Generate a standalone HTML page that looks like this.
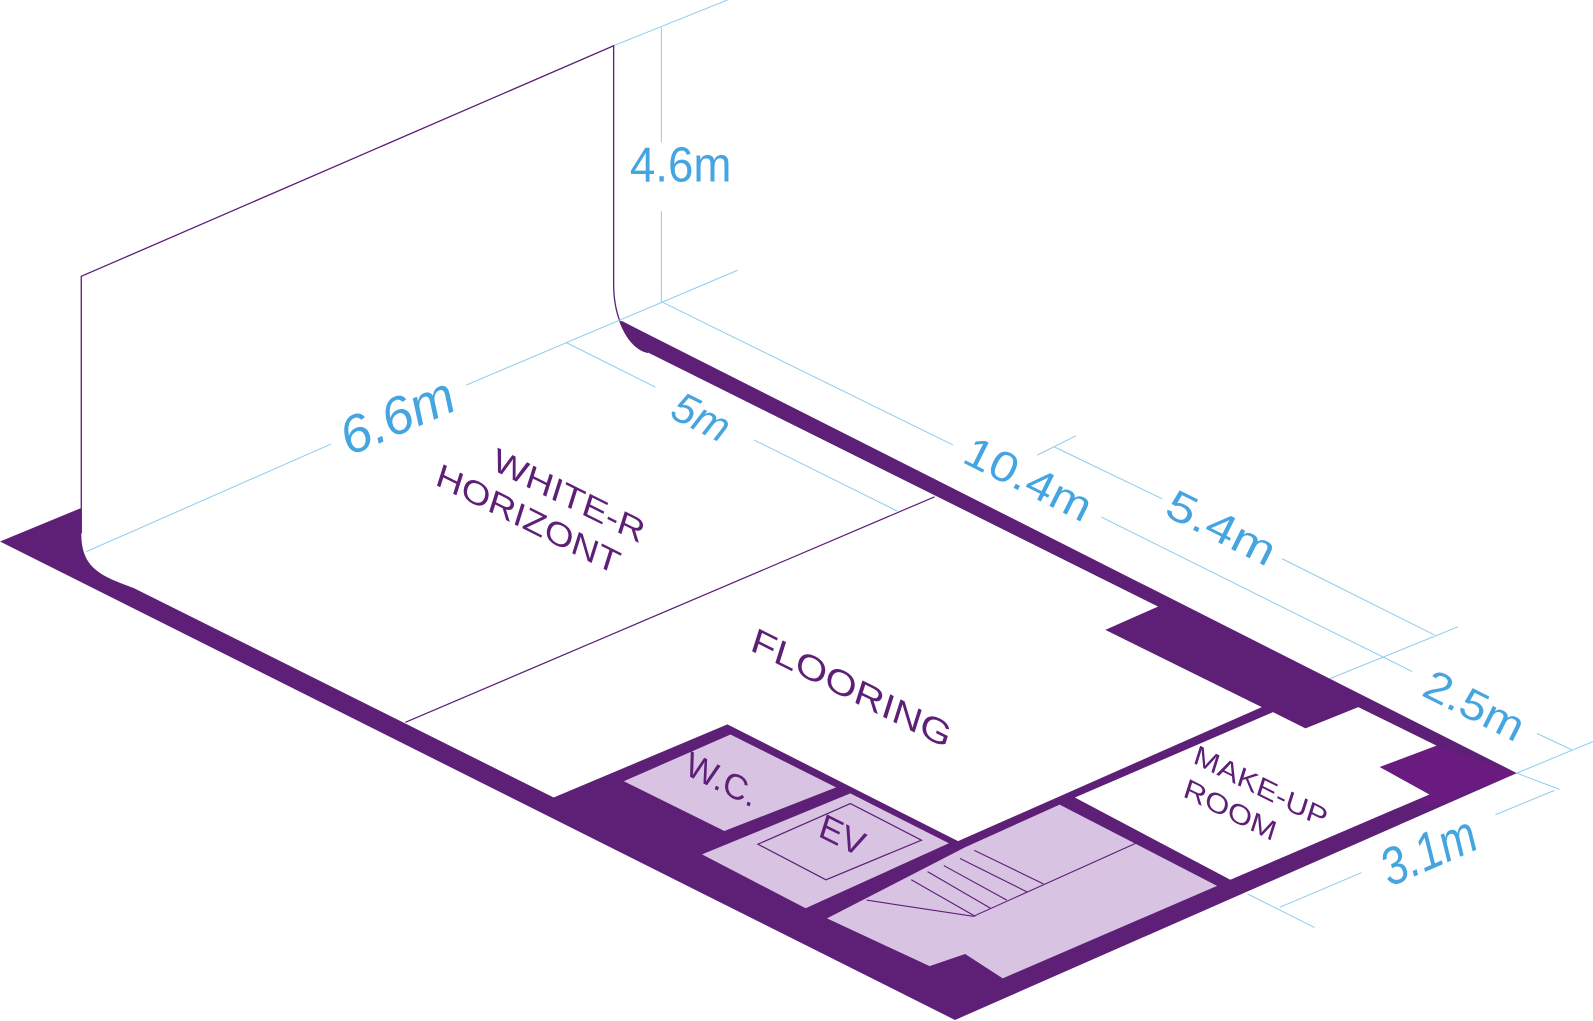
<!DOCTYPE html>
<html><head><meta charset="utf-8"><style>
html,body{margin:0;padding:0;background:#fff;}
svg{display:block;}
text{font-family:"Liberation Sans",sans-serif;}
</style></head><body>
<svg width="1593" height="1021" viewBox="0 0 1568 1005" preserveAspectRatio="none" xmlns="http://www.w3.org/2000/svg">
<g stroke="#8fcdf0" stroke-width="1" fill="none">
<line x1="604" y1="45" x2="716" y2="0"/>
<line x1="651" y1="27" x2="651" y2="140"/>
<line x1="651" y1="208" x2="651" y2="297"/>
<line x1="651" y1="297" x2="938" y2="438"/>
<line x1="1084" y1="509" x2="1390" y2="661"/>
<line x1="1021" y1="448" x2="1059" y2="429"/>
<line x1="1038" y1="440" x2="1144" y2="491"/>
<line x1="1262" y1="550" x2="1412" y2="625"/>
<line x1="1309" y1="668" x2="1435" y2="617"/>
<line x1="1513" y1="722" x2="1547" y2="738"/>
<line x1="1493" y1="761" x2="1568" y2="730"/>
<line x1="1493" y1="761" x2="1535" y2="777"/>
<line x1="1472" y1="802" x2="1530" y2="778"/>
<line x1="1260" y1="893" x2="1340" y2="859"/>
<line x1="1228" y1="880" x2="1294" y2="913"/>
</g>
<polygon fill="#5e1f77" points="0,533 80,500 612,316 1493,761 940,1004"/>
<polygon fill="#6a1b7f" points="1414,734 1493,761 1407,795 1358,755"/>
<path fill="#fff" d="M80,272 L604,45 L604,280 C604,312 618,343 638,347 L1140,597 L1088,620 L1242,696 L943,828 L716,713 L545,785 L132,579 C100,567 80,560 80,525 Z"/>
<path fill="#5e1f77" d="M612,322 C620,338 628,345 638,347 L1140,597 L1160,597 L612,316 Z"/>
<path fill="none" stroke="#5e1f77" stroke-width="1.3" d="M80,525 L80,272 L604,45 L604,280 C604,312 618,343 638,347"/>
<g stroke="#8fcdf0" stroke-width="1" fill="none">
<line x1="85" y1="543" x2="326" y2="437"/>
<line x1="459" y1="379" x2="726" y2="266"/>
<line x1="557" y1="337" x2="645" y2="381"/>
<line x1="742" y1="433" x2="883" y2="503"/>
</g>
<line x1="399" y1="711" x2="920" y2="489" stroke="#5e1f77" stroke-width="1.2"/>
<polygon fill="#d8c3e2" points="614,769 719,723 823,775 713,818"/>
<polygon fill="#d8c3e2" points="691,841 837,781 934,830 793,894"/>
<polygon fill="none" stroke="#5e1f77" stroke-width="1.2" points="746,831 837,791 907,827 813,866"/>
<polygon fill="#d8c3e2" points="814,904 950,834 1043,792 1198,872 987,963 950,939 915,951"/>
<polygon fill="#fff" points="1058,785 1253,701 1285,717 1337,696 1414,734 1358,755 1407,782 1211,866"/>
<g stroke="#5e1f77" stroke-width="1.1" fill="none">
<polyline points="853,886 958,902 1118,830"/>
<line x1="897" y1="866" x2="960" y2="902"/>
<line x1="913" y1="858" x2="975" y2="894"/>
<line x1="929" y1="852" x2="991" y2="886"/>
<line x1="945" y1="845" x2="1011" y2="878"/>
<line x1="959" y1="837" x2="1027" y2="870"/>
</g>
<g fill="#45a5e0">
<text x="670" y="163" font-size="48" text-anchor="middle" dominant-baseline="central" textLength="100" lengthAdjust="spacingAndGlyphs">4.6m</text>
<text transform="translate(391,410) rotate(-23.4)" font-size="52" font-style="italic" text-anchor="middle" dominant-baseline="central" textLength="118" lengthAdjust="spacingAndGlyphs">6.6m</text>
<text transform="translate(690,411) rotate(26.6)" font-size="42" font-style="italic" text-anchor="middle" dominant-baseline="central">5m</text>
<text transform="translate(1012,472) rotate(26.6)" font-size="42" text-anchor="middle" dominant-baseline="central" textLength="135" lengthAdjust="spacingAndGlyphs">10.4m</text>
<text transform="translate(1202,520) rotate(26.6)" font-size="42" text-anchor="middle" dominant-baseline="central" textLength="115" lengthAdjust="spacingAndGlyphs">5.4m</text>
<text transform="translate(1451,695) rotate(26.6)" font-size="42" text-anchor="middle" dominant-baseline="central" textLength="105" lengthAdjust="spacingAndGlyphs">2.5m</text>
<text transform="translate(1406,838) rotate(-23.4)" font-size="52" font-style="italic" text-anchor="middle" dominant-baseline="central" textLength="98" lengthAdjust="spacingAndGlyphs">3.1m</text>
</g>
<g fill="#5e1f77">
<text transform="matrix(0.894,0.447,-0.3,0.95,560,488)" font-size="32" text-anchor="middle" dominant-baseline="central" textLength="165" lengthAdjust="spacingAndGlyphs">WHITE-R</text>
<text transform="matrix(0.894,0.447,-0.3,0.95,520,511)" font-size="32" text-anchor="middle" dominant-baseline="central" textLength="200" lengthAdjust="spacingAndGlyphs">HORIZONT</text>
<text transform="matrix(0.894,0.447,-0.3,0.95,838,678)" font-size="34" text-anchor="middle" dominant-baseline="central" textLength="218" lengthAdjust="spacingAndGlyphs">FLOORING</text>
<text transform="matrix(0.894,0.447,-0.3,0.95,710,768)" font-size="34" text-anchor="middle" dominant-baseline="central" textLength="76" lengthAdjust="spacingAndGlyphs">W.C.</text>
<text transform="matrix(0.894,0.447,-0.3,0.95,829,823)" font-size="34" text-anchor="middle" dominant-baseline="central" textLength="48" lengthAdjust="spacingAndGlyphs">EV</text>
<text transform="matrix(0.894,0.447,-0.3,0.95,1241,774)" font-size="27" text-anchor="middle" dominant-baseline="central" textLength="145" lengthAdjust="spacingAndGlyphs">MAKE-UP</text>
<text transform="matrix(0.894,0.447,-0.3,0.95,1211,797)" font-size="27" text-anchor="middle" dominant-baseline="central" textLength="100" lengthAdjust="spacingAndGlyphs">ROOM</text>
</g>
</svg>
</body></html>
